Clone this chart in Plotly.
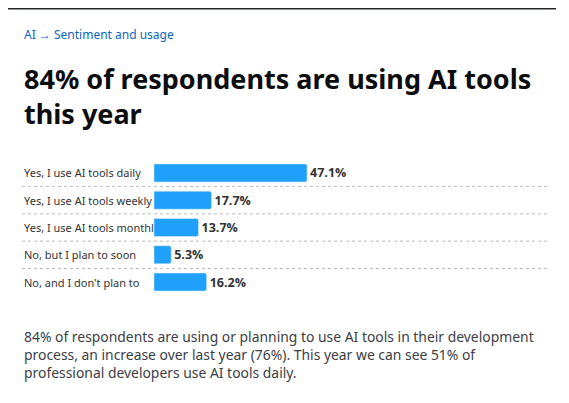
import plotly.graph_objects as go

categories = ["Yes, I use AI tools daily", "Yes, I use AI tools weekly", "Yes, I use AI tools monthly",
              "No, but I plan to soon", "No, and I don't plan to"]
tick_labels = ["Yes, I use AI tools daily", "Yes, I use AI tools weekly", "Yes, I use AI tools monthl",
               "No, but I plan to soon", "No, and I don't plan to"]
values = [47.1, 17.7, 13.7, 5.3, 16.2]

W, H = 569, 403
O = 8  # page offset
def px(x): return (x - O) / W
def py(y): return 1 - (y - O) / H

fig = go.Figure(go.Bar(
    x=values, y=categories, orientation="h", marker=dict(color="#1fa0fb", cornerradius=2),
    width=0.66, text=[f"{v}%" for v in values], textposition="outside", cliponaxis=False,
    textfont=dict(family="Open Sans", size=12.5, color="#333333", weight="bold"),
    hoverinfo="skip"))

ann = []
for c, t in zip(categories, tick_labels):
    ann.append(dict(x=px(22), xref="paper", y=c, yref="y", text=t, showarrow=False, xanchor="left",
                    font=dict(family="Noto Sans", size=11, color="#333333")))
ann.append(dict(x=px(22), y=py(35), xref="paper", yref="paper", text="AI → Sentiment and usage",
                showarrow=False, xanchor="left", yanchor="middle",
                font=dict(family="Noto Sans", size=12, color="#0a66c2")))
ann.append(dict(x=px(22), y=py(96), xref="paper", yref="paper",
                text="<b>84% of respondents are using AI tools<br>this year</b>",
                showarrow=False, xanchor="left", yanchor="middle", align="left",
                font=dict(family="Noto Sans", size=27, color="#0c0d0e")))
ann.append(dict(x=px(22), y=py(354), xref="paper", yref="paper",
                text="84% of respondents are using or planning to use AI tools in their development<br>"
                     "process, an increase over last year (76%). This year we can see 51% of<br>"
                     "professional developers use AI tools daily.",
                showarrow=False, xanchor="left", yanchor="middle", align="left",
                font=dict(family="Noto Sans", size=13.9, color="#3b4045")))

shapes = [dict(type="line", xref="paper", yref="paper", x0=0, x1=px(556), y0=1, y1=1,
               line=dict(color="#232629", width=3))]
for i in range(4):
    shapes.append(dict(type="line", xref="paper", yref="y", x0=px(22), x1=px(548), y0=i+0.5, y1=i+0.5,
                       line=dict(color="#bbbbbb", width=1, dash="dot")))

fig.update_layout(
    width=W, height=H, margin=dict(l=0, r=0, t=0, b=0), plot_bgcolor="white", paper_bgcolor="white",
    showlegend=False, annotations=ann, shapes=shapes,
    xaxis=dict(domain=[px(154), px(479)], range=[0, 100], visible=False),
    yaxis=dict(domain=[py(295.7), py(159.3)], range=[4.5, -0.5], visible=False,
               categoryorder="array", categoryarray=categories),
)
fig.write_html("out.html")
